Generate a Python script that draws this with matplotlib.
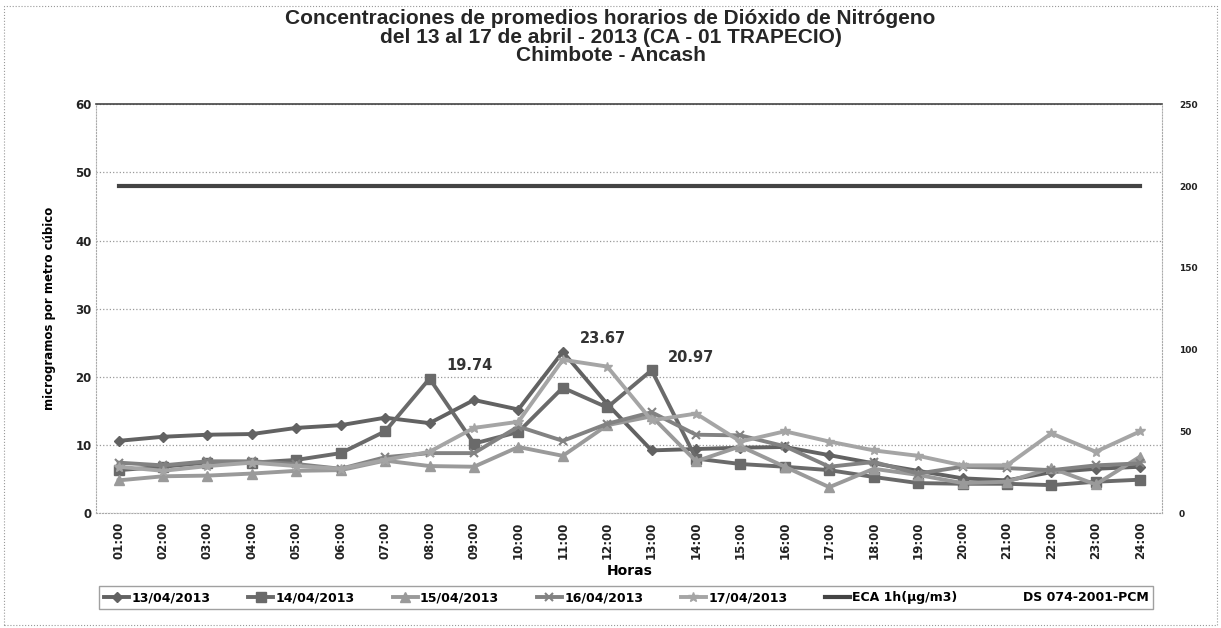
import matplotlib.pyplot as plt
from matplotlib.lines import Line2D
from matplotlib.patches import Rectangle

# Data
horas = ['01:00', '02:00', '03:00', '04:00', '05:00', '06:00', '07:00', '08:00',
         '09:00', '10:00', '11:00', '12:00', '13:00', '14:00', '15:00', '16:00',
         '17:00', '18:00', '19:00', '20:00', '21:00', '22:00', '23:00', '24:00']
d13 = [10.6, 11.2, 11.5, 11.6, 12.5, 12.9, 14.0, 13.2, 16.6, 15.2, 23.67, 16.0,
       9.2, 9.4, 9.6, 9.7, 8.5, 7.3, 6.2, 5.1, 4.8, 6.0, 6.5, 6.8]
d14 = [6.3, 6.8, 7.4, 7.4, 7.8, 8.8, 12.0, 19.74, 10.2, 11.9, 18.4, 15.5,
       20.97, 8.0, 7.2, 6.8, 6.3, 5.3, 4.4, 4.3, 4.3, 4.1, 4.6, 4.9]
d15 = [4.8, 5.4, 5.5, 5.8, 6.2, 6.3, 7.7, 6.9, 6.8, 9.7, 8.4, 12.9,
       14.2, 7.6, 9.8, 6.8, 3.8, 6.5, 5.6, 4.4, 4.6, 6.6, 4.2, 8.3]
d16 = [7.4, 7.0, 7.6, 7.6, 7.2, 6.5, 8.2, 8.8, 8.8, 12.7, 10.6, 13.1,
       14.8, 11.5, 11.4, 9.8, 6.8, 7.5, 5.8, 6.8, 6.6, 6.3, 7.0, 7.3]
d17 = [6.8, 6.2, 6.9, 7.4, 6.9, 6.5, 7.8, 9.0, 12.5, 13.4, 22.5, 21.5,
       13.6, 14.6, 10.5, 12.0, 10.5, 9.2, 8.4, 7.0, 7.0, 11.7, 9.0, 12.0]
eca = [48] * 24

fig = plt.figure(figsize=(12.21, 6.28), dpi=100)
ax = fig.add_axes([0.079, 0.183, 0.873, 0.651])

x = list(range(len(horas)))
ax.plot(x, d13, color='#626262', lw=2.8, marker='D', ms=5, label='13/04/2013')
ax.plot(x, d14, color='#6a6a6a', lw=2.8, marker='s', ms=7, label='14/04/2013')
ax.plot(x, d15, color='#9a9a9a', lw=2.8, marker='^', ms=7, label='15/04/2013')
ax.plot(x, d16, color='#828282', lw=2.8, marker='x', ms=6, mew=1.5, label='16/04/2013')
ax.plot(x, d17, color='#a5a5a5', lw=2.8, marker='*', ms=7, label='17/04/2013')
ax.plot(x, eca, color='#444444', lw=3.0, label='ECA 1h(µg/m3)')

# data labels on peaks
for xi, yi, txt in [(7, d14[7], '19.74'), (10, d13[10], '23.67'), (12, d14[12], '20.97')]:
    ax.annotate(txt, (xi, yi), xytext=(12, 4), textcoords='offset points',
                fontsize=10.5, fontweight='bold', color='#333333', va='bottom')

ax.set_xlim(-0.5, 23.5)
ax.set_ylim(0, 60)
ax.set_yticks(range(0, 61, 10))
ax.set_xticks(x)
ax.set_xticklabels(horas, rotation=90, fontsize=8.5, fontweight='bold', color='#222222')
ax.tick_params(axis='y', labelsize=8.5, colors='#222222', length=0)
for lab in ax.get_yticklabels():
    lab.set_fontweight('bold')
ax.tick_params(axis='x', length=0, pad=6)
ax.grid(axis='y', ls=':', color='#999999', lw=0.9)
ax.set_axisbelow(True)
for s in ['left', 'right', 'bottom']:
    ax.spines[s].set_color('#aaaaaa')
    ax.spines[s].set_linestyle(':')
ax.spines['top'].set_color('#444444')
ax.spines['top'].set_linewidth(1.2)

ax.set_xlabel('Horas', fontsize=10, fontweight='bold', labelpad=4)
ax.set_ylabel('microgramos por metro cúbico', fontsize=8.5, fontweight='bold', labelpad=14)

ax2 = ax.twinx()
ax2.set_ylim(0, 250)
ax2.set_yticks(range(0, 251, 50))
ax2.tick_params(axis='y', labelsize=6.5, colors='#222222', length=0, pad=12)
for lab in ax2.get_yticklabels():
    lab.set_fontweight('bold')
for s in ax2.spines.values():
    s.set_visible(False)

fig.suptitle('Concentraciones de promedios horarios de Dióxido de Nitrógeno\n'
             'del 13 al 17 de abril - 2013 (CA - 01 TRAPECIO)\nChimbote - Ancash',
             y=0.985, fontsize=15, fontweight='bold', family='Liberation Sans',
             color='#262626', linespacing=0.95)

handles, labels = ax.get_legend_handles_labels()
handles.append(Line2D([], [], lw=0))
labels.append('DS 074-2001-PCM')
leg = fig.legend(handles, labels, loc='lower center', bbox_to_anchor=(0.513, 0.02),
                 ncol=7, frameon=True, fancybox=False, edgecolor='#888888',
                 prop={'size': 9, 'weight': 'bold'}, handlelength=2.0,
                 handletextpad=0.2, columnspacing=3.0, borderpad=0.4)
leg.get_frame().set_linewidth(1.0)

# outer dotted frame
fig.patches.append(Rectangle((0.003, 0.005), 0.994, 0.985, transform=fig.transFigure,
                             fill=False, ls=':', color='#999999', lw=0.8))

fig.savefig('out.png', dpi=100)
